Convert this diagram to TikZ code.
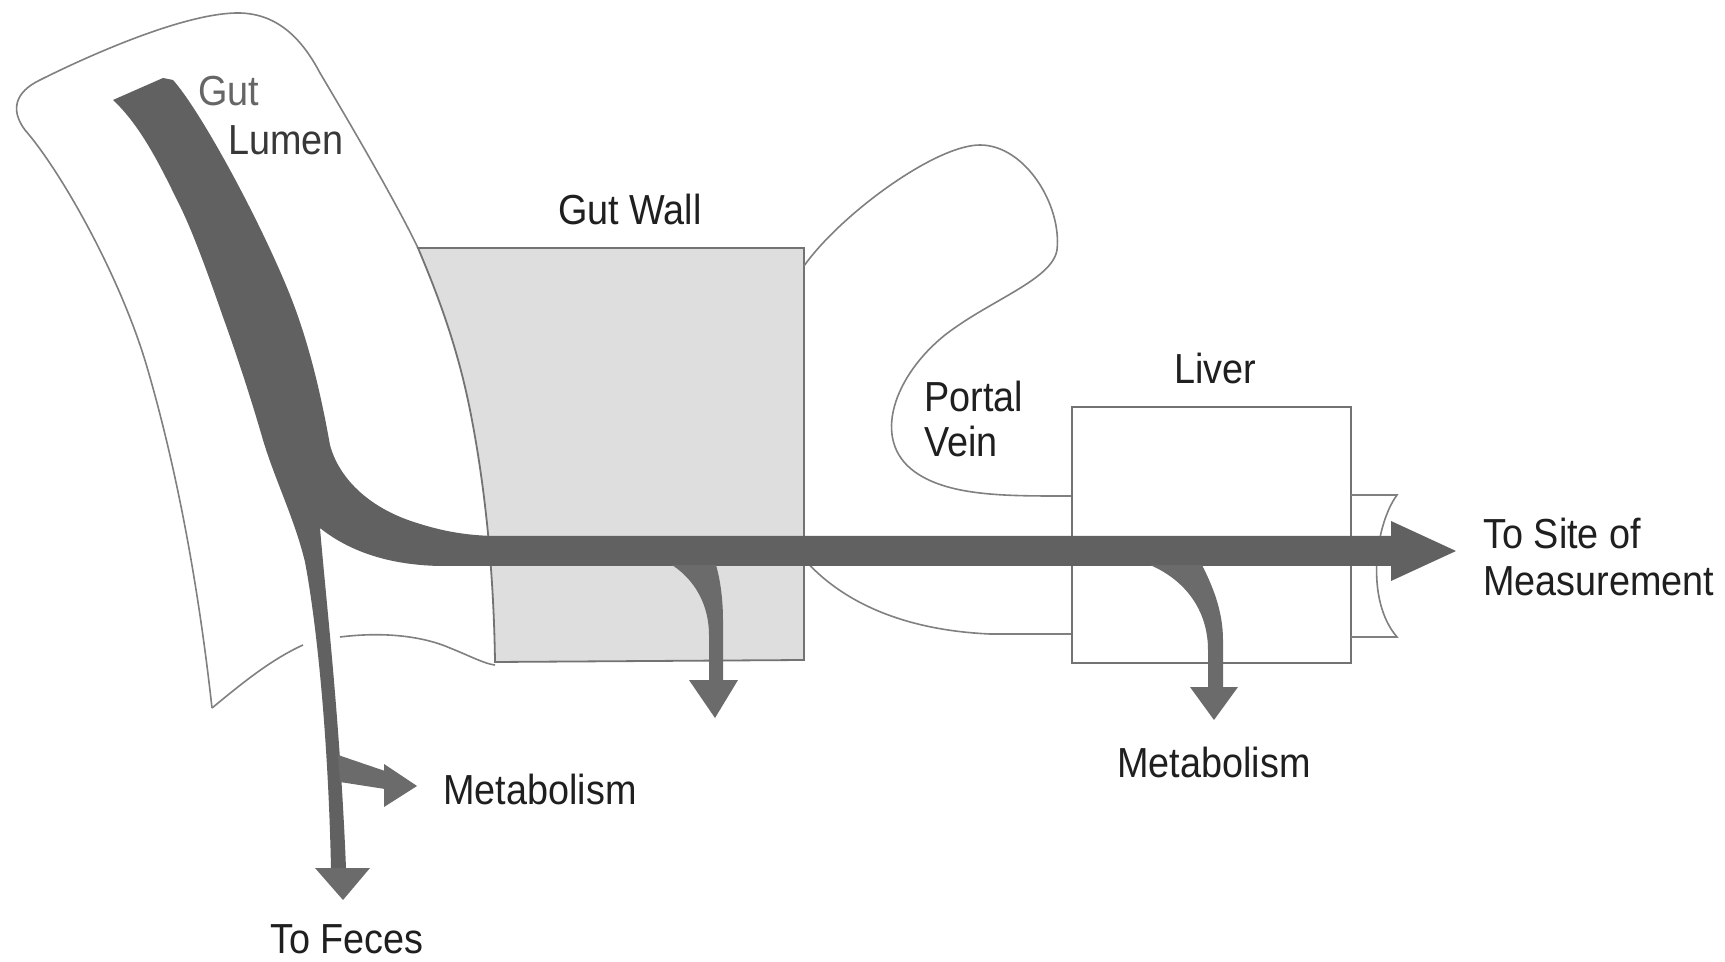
\documentclass[tikz,border=0pt]{standalone}
\usepackage{fontspec}
\setmainfont{Liberation Sans}[FakeStretch=0.9]
\begin{document}
\begin{tikzpicture}[x=0.5pt,y=-0.5pt,
  outline/.style={draw=black!50, line width=0.8pt},
  boxline/.style={draw=black!55, line width=0.9pt},
  flow/.style={fill=black!62, draw=none},
  branch/.style={fill=black!58, draw=none},
  lbl/.style={font=\fontsize{21}{24}\selectfont, text=black!88, inner sep=0pt}]
\useasboundingbox[fill=white] (0,0) rectangle (1725,962);

% gut lumen outline
\draw[outline] (212,708) .. controls (200,600) and (180,480) .. (147,367)
  .. controls (120,275) and (60,170) .. (25,130)
  .. controls (10,110) and (15,92) .. (40,80)
  .. controls (100,50) and (190,12) .. (240,13)
  .. controls (275,14) and (300,35) .. (320,73)
  .. controls (345,115) and (395,200) .. (418,248);
\draw[outline] (212,708) .. controls (240,685) and (270,660) .. (303,645);
\draw[outline] (340,637) .. controls (380,632) and (420,635) .. (450,648)
  .. controls (470,656) and (485,664) .. (495,665);

% gut wall
\path[boxline, fill=black!13] (418,248) -- (804,248) -- (804,660) -- (495,662)
  .. controls (494,590) and (488,500) .. (470,410)
  .. controls (458,350) and (440,300) .. cycle;

% portal vein
\draw[outline] (804,266) .. controls (840,215) and (935,145) .. (980,145)
  .. controls (1025,145) and (1062,205) .. (1057,250)
  .. controls (1052,280) and (990,300) .. (945,335)
  .. controls (895,375) and (870,440) .. (915,472)
  .. controls (950,497) and (1010,496) .. (1072,496);
\draw[outline] (804,559) .. controls (840,600) and (900,630) .. (990,634) -- (1072,634);

% liver
\draw[boxline, fill=white] (1072,407) rectangle (1351,663);
% outflow vessel stub
\draw[outline] (1351,495) -- (1397,495) .. controls (1375,525) and (1365,600) .. (1397,637) -- (1351,637);

% main flow band
\fill[flow] (113,100) -- (163,78) -- (173,80)
  .. controls (200,110) and (260,220) .. (290,295)
  .. controls (310,345) and (322,400) .. (330,445)
  .. controls (338,475) and (365,507) .. (417,523)
  .. controls (445,532) and (470,536) .. (500,536)
  -- (1392,536) -- (1392,566) -- (440,566)
  .. controls (390,565) and (350,552) .. (320,528)
  .. controls (326,600) and (340,720) .. (346,868)
  -- (331,868)
  .. controls (328,730) and (316,620) .. (305,562)
  .. controls (295,520) and (275,480) .. (263,440)
  .. controls (250,395) and (235,350) .. (223,317)
  .. controls (205,265) and (190,225) .. (177,200)
  .. controls (160,165) and (140,125) .. cycle;
% main arrow head
\fill[flow] (1391,521) -- (1456,551) -- (1391,581) -- cycle;
% feces head
\fill[branch] (315,868) -- (370,868) -- (343,900) -- cycle;
% small metabolism branch from lumen
\fill[branch] (338,755) -- (385,771) -- (385,789) -- (340,782) -- cycle;
\fill[branch] (384,764) -- (417,786) -- (384,807) -- cycle;
% gut wall metabolism branch
\fill[branch] (672,565) .. controls (695,580) and (709,605) .. (709,635) -- (709,681)
  -- (723,681) -- (723,620) .. controls (723,595) and (719,575) .. (716,565) -- cycle;
\fill[branch] (689,680) -- (738,680) -- (715,718) -- cycle;
% liver metabolism branch
\fill[branch] (1150,565) .. controls (1185,580) and (1208,610) .. (1208,650) -- (1208,688)
  -- (1223,688) -- (1223,640) .. controls (1223,610) and (1212,585) .. (1202,565) -- cycle;
\fill[branch] (1190,687) -- (1238,687) -- (1214,720) -- cycle;

% labels
\node[lbl, text=black!60, anchor=base west] (gut) at (198,106) {Gut};
\node[lbl, text=black!78, anchor=base west] (lumen) at (228,155) {Lumen};
\node[lbl, anchor=base] (wall) at (630,225) {Gut Wall};
\node[lbl, anchor=base west] (portal) at (924,412) {Portal};
\node[lbl, anchor=base west] (vein) at (924,457) {Vein};
\node[lbl, anchor=base] (liver) at (1215,384) {Liver};
\node[lbl, anchor=base west] (site1) at (1483,549) {To Site of};
\node[lbl, anchor=base west] (site2) at (1483,596) {Measurement};
\node[lbl, anchor=base] (metliver) at (1214,777) {Metabolism};
\node[lbl, anchor=base west] (metgut) at (443,804) {Metabolism};
\node[lbl, anchor=base] (feces) at (347,953) {To Feces};
\end{tikzpicture}
\end{document}
